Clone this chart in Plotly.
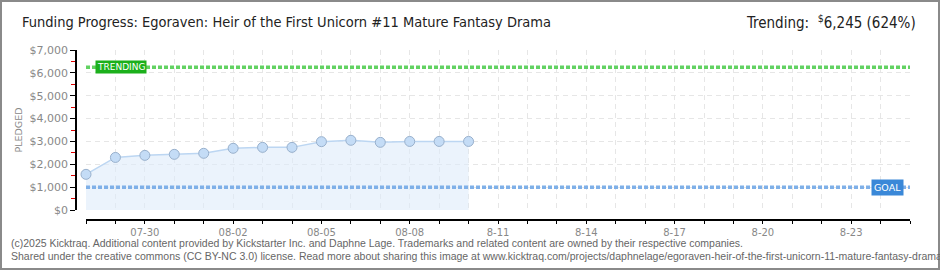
import plotly.graph_objects as go

dates = ["2025-07-28", "2025-07-29", "2025-07-30", "2025-07-31", "2025-08-01", "2025-08-02",
         "2025-08-03", "2025-08-04", "2025-08-05", "2025-08-06", "2025-08-07", "2025-08-08",
         "2025-08-09", "2025-08-10"]
pledged = [1560, 2300, 2390, 2435, 2480, 2700, 2740, 2740, 2990, 3050, 2960, 3000, 3000, 3000]
goal = 1000
trending = 6245
tick_dates = ["2025-07-30", "2025-08-02", "2025-08-05", "2025-08-08", "2025-08-11",
              "2025-08-14", "2025-08-17", "2025-08-20", "2025-08-23"]
tick_labels = ["07-30", "08-02", "08-05", "08-08", "8-11", "8-14", "8-17", "8-20", "8-23"]
x_start, x_end = "2025-07-28", "2025-08-25"

W, H = 940, 270
ML, MR, MT, MB = 76, 30, 50, 50
PW, PH = W - ML - MR, H - MT - MB

fig = go.Figure()
fig.add_trace(go.Scatter(
    x=dates, y=pledged, mode="lines+markers",
    line=dict(color="#bcd6f2", width=1.5),
    fill="tozeroy", fillcolor="rgba(222,235,250,0.6)",
    marker=dict(size=10, color="#c4dcf6", line=dict(color="#98b0cc", width=1)),
    cliponaxis=False, showlegend=False))

# goal / trending lines
for val, col in [(goal, "#7fb0e8"), (trending, "#62d262")]:
    fig.add_trace(go.Scatter(
        x=[x_start, x_end], y=[val, val], mode="lines",
        line=dict(color=col, width=3.5, dash="4px,2px"),
        showlegend=False, hoverinfo="skip"))

grid = dict(showgrid=True, gridcolor="#e6e6e6", gridwidth=1, griddash="5px,4px")

fig.update_layout(
    width=W, height=H,
    margin=dict(l=ML, r=MR, t=MT, b=MB),
    paper_bgcolor="white", plot_bgcolor="white",
    font=dict(family="DejaVu Sans", color="#888"),
    xaxis=dict(
        type="date", range=[x_start, x_end], domain=[10 / PW, 1],
        anchor="free", position=0,
        tickvals=tick_dates, ticktext=tick_labels,
        tickfont=dict(size=10, color="#888", family="DejaVu Sans"),
        ticks="outside", ticklen=3, tickcolor="#000", tickwidth=1,
        showline=True, linecolor="#000", linewidth=1.5,
        minor=dict(dtick=86400000, tick0=x_start, ticks="outside", ticklen=3,
                   tickcolor="#000", showgrid=True, gridcolor="#e6e6e6", griddash="5px,4px"),
        zeroline=False, **grid),
    yaxis=dict(
        range=[0, 7000], domain=[10 / PH, 1], dtick=1000,
        anchor="free", position=0,
        tickprefix="$", tickformat=",",
        tickfont=dict(size=11, color="#888", family="DejaVu Sans"),
        ticks="outside", ticklen=5, tickcolor="#000",
        showline=True, linecolor="#000", linewidth=1.5,
        minor=dict(dtick=500, ticks="outside", ticklen=4, tickcolor="#e00000", showgrid=False),
        zeroline=False,
        title=dict(text="PLEDGED", font=dict(size=9.5, color="#888"), standoff=4),
        **grid),
)

# title texts
fig.add_annotation(text="Funding Progress: Egoraven: Heir of the First Unicorn #11 Mature Fantasy Drama",
                   xref="paper", yref="paper", x=-(ML - 20) / PW, y=1 + (MT - 22) / PH,
                   xanchor="left", yanchor="middle", showarrow=False,
                   font=dict(size=14.5, color="#222", family="Liberation Sans Narrow, DejaVu Sans Condensed"))
fig.add_annotation(text="Trending:  <sup>$</sup>6,245 (624%)",
                   xref="paper", yref="paper", x=(918 - ML) / PW, y=1 + (MT - 22) / PH,
                   xanchor="right", yanchor="middle", showarrow=False,
                   font=dict(size=15, color="#222", family="Liberation Sans Narrow, DejaVu Sans Condensed"))

# labels on lines
fig.add_annotation(text="TRENDING", xref="paper", yref="y", x=(120.5 - ML) / PW, y=trending,
                   xanchor="center", yanchor="middle",
                   showarrow=False, bgcolor="#1cb01c", borderpad=1,
                   font=dict(size=9, color="white", family="DejaVu Sans"))
fig.add_annotation(text="GOAL", xref="paper", yref="y", x=(887.5 - ML) / PW, y=goal,
                   xanchor="center", yanchor="middle",
                   showarrow=False, bgcolor="#3a88d8", borderpad=2,
                   font=dict(size=9.5, color="white", family="DejaVu Sans"))

# footer
footer1 = ("(c)2025 Kicktraq. Additional content provided by Kickstarter Inc. and Daphne Lage. "
           "Trademarks and related content are owned by their respective companies.")
footer2 = ("Shared under the creative commons (CC BY-NC 3.0) license. Read more about sharing this image at "
           "www.kicktraq.com/projects/daphnelage/egoraven-heir-of-the-first-unicorn-11-mature-fantasy-drama")
for i, t in enumerate([footer1, footer2]):
    fig.add_annotation(text=t, xref="paper", yref="paper",
                       x=-(ML - 9) / PW, y=-(243 + 13 * i - (MT + PH)) / PH,
                       xanchor="left", yanchor="middle", showarrow=False,
                       font=dict(size=10.5, color="#666", family="Liberation Sans"))

# outer frame
fig.add_shape(type="rect", xref="paper", yref="paper",
              x0=-ML / PW + 1 / PW, x1=(W - ML - 1) / PW,
              y0=-MB / PH + 1 / PH, y1=1 + (MT - 1) / PH,
              line=dict(color="#8a8a8a", width=2), layer="above")

fig.write_html("out.html")
